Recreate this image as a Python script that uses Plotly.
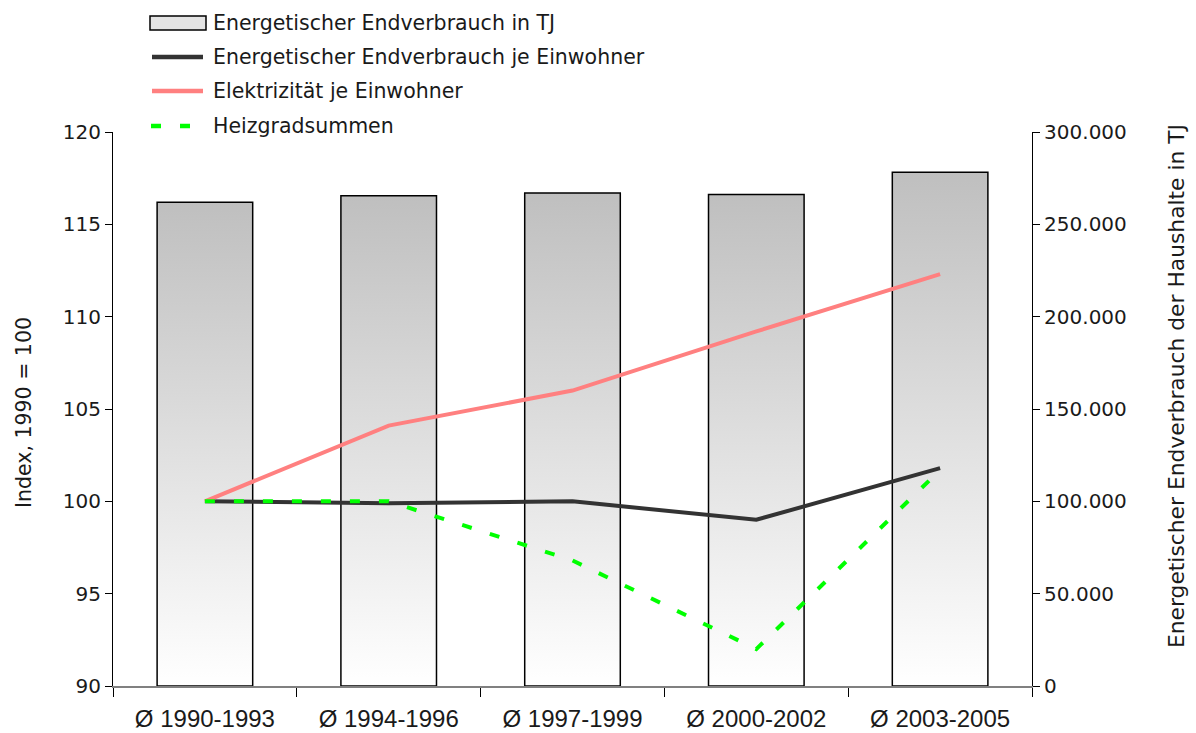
import plotly.graph_objects as go

categories = ["Ø 1990-1993", "Ø 1994-1996", "Ø 1997-1999", "Ø 2000-2002", "Ø 2003-2005"]
endverbrauch_tj = [262000, 265500, 267000, 266200, 278200]
endverbrauch_je_einwohner = [100.0, 99.9, 100.0, 99.0, 101.8]
elektrizitaet_je_einwohner = [100.0, 104.1, 106.0, 109.2, 112.3]
heizgradsummen = [100.0, 100.0, 96.8, 92.0, 101.7]

series_names = ["Energetischer Endverbrauch in TJ",
                "Energetischer Endverbrauch je Einwohner",
                "Elektrizität je Einwohner",
                "Heizgradsummen"]

W, H = 1196, 733
ML, MR, MT, MB = 113, 164, 132, 47
PW, PH = W - ML - MR, H - MT - MB

bar_width = 0.52
font_main = "DejaVu Sans"
txt_col = "#1a1a1a"
col_black = "#333333"
col_pink = "#ff8080"
col_green = "#00ff00"
green_dash = "10px,19px"


def px_x(px):
    return (px - ML) / PW


def px_y(py):
    return (H - MB - py) / PH


fig = go.Figure()

for i, v in enumerate(endverbrauch_tj):
    x0, x1 = i - bar_width / 2, i + bar_width / 2
    fig.add_trace(go.Scatter(
        x=[x0, x0, x1, x1, x0], y=[0, v, v, 0, 0],
        mode="lines", fill="toself",
        fillgradient=dict(type="vertical", colorscale=[[0, "#ffffff"], [1, "#bfbfbf"]]),
        line=dict(color="#000000", width=1.5),
        name=series_names[0], showlegend=False,
        yaxis="y", xaxis="x", hoverinfo="skip",
    ))

xs = list(range(len(categories)))
fig.add_trace(go.Scatter(
    x=xs, y=endverbrauch_je_einwohner, mode="lines",
    line=dict(color=col_black, width=4),
    name=series_names[1], showlegend=False, yaxis="y2",
))
fig.add_trace(go.Scatter(
    x=xs, y=elektrizitaet_je_einwohner, mode="lines",
    line=dict(color=col_pink, width=4),
    name=series_names[2], showlegend=False, yaxis="y2",
))
fig.add_trace(go.Scatter(
    x=xs, y=heizgradsummen, mode="lines",
    line=dict(color=col_green, width=4, dash=green_dash),
    name=series_names[3], showlegend=False, yaxis="y2",
))

# manual legend
row_y = [23, 57, 91, 126]
sym_x0, sym_x1, text_x = 150, 205, 211
shapes = [
    dict(type="rect", xref="paper", yref="paper",
         x0=px_x(sym_x0), x1=px_x(sym_x1 + 1), y0=px_y(row_y[0] + 7), y1=px_y(row_y[0] - 7),
         line=dict(color="#000000", width=1.5), fillcolor="#e4e4e4", layer="above"),
    dict(type="line", xref="paper", yref="paper",
         x0=px_x(sym_x0 + 2), x1=px_x(sym_x1 - 2), y0=px_y(row_y[1]), y1=px_y(row_y[1]),
         line=dict(color=col_black, width=4.5)),
    dict(type="line", xref="paper", yref="paper",
         x0=px_x(sym_x0 + 2), x1=px_x(sym_x1 - 2), y0=px_y(row_y[2]), y1=px_y(row_y[2]),
         line=dict(color=col_pink, width=4.5)),
    dict(type="line", xref="paper", yref="paper",
         x0=px_x(sym_x0 + 1), x1=px_x(sym_x0 + 45), y0=px_y(row_y[3]), y1=px_y(row_y[3]),
         line=dict(color=col_green, width=4.5, dash=green_dash)),
]

annotations = []
for name, ry in zip(series_names, row_y):
    annotations.append(dict(
        text=name, xref="paper", yref="paper", x=px_x(text_x), y=px_y(ry),
        xanchor="left", yanchor="middle", showarrow=False,
        font=dict(family=font_main, size=20.5, color=txt_col),
    ))

annotations += [
    dict(text="Index, 1990 = 100", xref="paper", yref="paper",
         x=px_x(24), y=px_y(413), textangle=-90, showarrow=False,
         font=dict(size=20.5, color=txt_col), xanchor="center", yanchor="middle"),
    dict(text="Energetischer Endverbrauch der Haushalte in TJ", xref="paper", yref="paper",
         x=px_x(1176), y=px_y(386), textangle=-90, showarrow=False,
         font=dict(size=21.8, color=txt_col), xanchor="center", yanchor="middle"),
]

fig.update_layout(
    width=W, height=H,
    margin=dict(l=ML, r=MR, t=MT, b=MB, autoexpand=False),
    paper_bgcolor="white", plot_bgcolor="white",
    separators=",.",
    font=dict(family=font_main, size=20, color=txt_col),
    showlegend=False,
    xaxis=dict(
        range=[-0.5, 4.5], tickmode="array", tickvals=xs, ticktext=categories,
        ticks="", showline=True, linecolor="#808080", linewidth=1.5,
        showgrid=False, zeroline=False, ticklabelstandoff=10,
        tickfont=dict(family="Liberation Sans", size=24, color=txt_col),
        minor=dict(tickmode="array", tickvals=[-0.5, 0.5, 1.5, 2.5, 3.5, 4.5],
                   ticks="outside", ticklen=9, tickcolor="#000000", tickwidth=1, showgrid=False),
    ),
    yaxis=dict(
        range=[0, 300000], dtick=50000, tickformat=",d", side="right",
        showline=True, linecolor="#000000", linewidth=1.2,
        ticks="outside", ticklen=7, tickcolor="#000000",
        showgrid=False, zeroline=False,
        tickfont=dict(size=20),
    ),
    yaxis2=dict(
        range=[90, 120], dtick=5, side="left", overlaying="y",
        showline=True, linecolor="#000000", linewidth=1.2,
        ticks="outside", ticklen=7, tickcolor="#000000",
        showgrid=False, zeroline=False,
        tickfont=dict(size=20),
    ),
    shapes=shapes,
    annotations=annotations,
)

fig.write_html("out.html", config={"displayModeBar": False},
               post_script="document.body.style.margin='0';document.body.style.overflow='hidden';")
